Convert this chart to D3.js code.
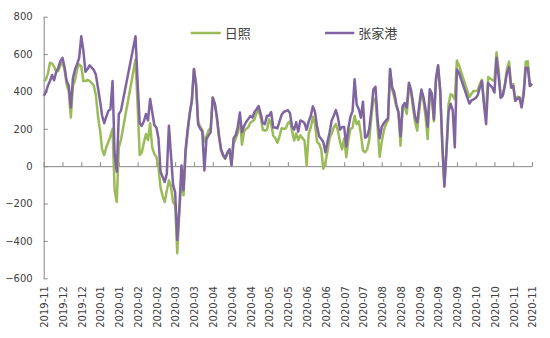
<!DOCTYPE html>
<html>
<head>
<meta charset="utf-8">
<script src="https://cdn.jsdelivr.net/npm/d3@7/dist/d3.min.js"></script>
<style>
  html, body { margin: 0; padding: 0; background: #fff; }
  svg { display: block; }
</style>
</head>
<body>
<svg id="chart" width="550" height="338"></svg>
<script>
// Tick labels along the bottom, one every `labelStep` observations
const tickLabels = [
  "2019-11","2019-12","2019-12","2020-01","2020-01","2020-02","2020-02",
  "2020-03","2020-03","2020-04","2020-04","2020-04","2020-05","2020-05",
  "2020-06","2020-06","2020-07","2020-07","2020-08","2020-08","2020-09",
  "2020-09","2020-09","2020-10","2020-10","2020-11","2020-11"
];
const labelStep = 9;

const seriesNames = ["日照", "张家港"];
const seriesColors = ["#9BBB59", "#8064A2"];

const yTicks = [-600, -400, -200, 0, 200, 400, 600, 800];

// 日照 (null = no observation; the line bridges across)
const rizhao = [
  456, 462, 495, 553, 550, 533, 505, 510, 540, 555,
  515, 438, 400, 261, 430, 460, 520, 545, 535, 456,
  456, 462, 456, 445, 430, 380, 270, 190, 90, 60,
  101, 130, 160, 200, -130, -192, 101, 140,
  null, null, null, null, null, null,
  571, 330, 60, 74, 125, 172,
  140, 230, 100, 66, 50, -5, -115, -160, -192, -130,
  -76, -110, -192, -210, -466, -250, -58, -156, 70, 180,
  280, 350, 520, 438, 240, 210, 195, 130, 160, 190,
  207, 367, 330, 255, 155, 85, 55, 40, 65, 90,
  15, 120, 145, 180, 265, 115, 185, 200, 207, 232,
  240, 250, 285, 300, 260, 195, 190, 195, 250, 228,
  163, 150, 125, 160, 203, 200, 202, 230, 240, 190,
  137, 175, 140, 165, 150, 137, 4, 175, 207, 265,
  225, 130, 119, 90, -14, 20, 80, 150, 175, 207,
  225, 190, 130, 90, 150, 48, 140, 200, 205, 270,
  225, 240, 172, 84, 74, 90, 140, 261, 360, 360,
  210, 50, 130, 190, 225, 245, 520, 410, 370, 320,
  285, 110, 310, 320, 280, 420, 400, 310, 235, 190,
  300, 400, 348, 265, 145, 394, 360, 240, 456, 530,
  400, 120, -100, 80, 330, 385, 378, 358, 565, 540,
  null, null, null, null,
  370, 388, 403, 403, 405, 440,
  462, 340, 300, 477, 468, 462, 456, 610, 520, 370,
  378, 440, 520, 560, 430, 440, 350, 372, 367, 332,
  400, 559, 562, 429, 436
];

// 张家港
const zhangjiagang = [
  376, 395, 430, 456, 488, 460, 505, 527, 562, 580,
  530, 456, 430, 314, 470, 518, 546, 580, 695, 620,
  505, 520, 540, 527, 515, 490, 420, 350, 270, 230,
  265, 296, 305, 456, 60, -30, 279, 296,
  null, null, null, null, null, null,
  695, 450, 230, 216, 240, 279,
  245, 360, 290, 220, 207, 150, -30, -58, -85, -40,
  216, 60, -100, -140, -395, -230, 4, -129, 90, 200,
  285, 350, 520, 438, 225, 200, 185, -23, 145, 165,
  181, 367, 336, 265, 165, 90, 60, 42, 74, 90,
  4, 150, 165, 210, 287, 181, 215, 236, 252, 268,
  260, 290, 305, 322, 280, 230, 225, 270, 270, 290,
  207, 207, 203, 240, 275, 290, 295, 300, 285, 215,
  195, 235, 185, 245, 240, 230, 195, 240, 270, 320,
  290, 212, 160, 145, 130, 75, 130, 180, 245, 270,
  300, 261, 195, 210, 210, 105, 205, 265, 294, 465,
  330, 305, 260, 345, 152, 160, 200, 296, 410, 425,
  250, 150, 210, 230, 245, 255, 520, 420, 395, 330,
  290, 160, 320, 338, 314, 447, 410, 340, 260, 234,
  330, 410, 370, 305, 210, 412, 390, 250, 473, 540,
  410, 120, -110, 80, 290, 334, 300, 101, 518, 500,
  null, null, null, null,
  335, 352, 358, 365, 380, 420,
  456, 330, 225, 445, 432, 420, 394, 580, 480, 365,
  378, 430, 500, 530, 420, 430, 350, 362, 367, 314,
  380, 527, 527, 429, 442
];

const series = [rizhao, zhangjiagang];
const n = rizhao.length;

const svg = d3.select("#chart");
const axisColor = "#868686";
const textColor = "#404040";
const fontLatin = "'DejaVu Sans', sans-serif";
const fontCJK = "'Noto Sans CJK SC', sans-serif";

const x = d3.scaleLinear().domain([0, n - 1]).range([43.7, 532]);
const y = d3.scaleLinear().domain([-600, 800]).range([278.3, 16.7]);

const tickIdx = tickLabels.map((_, i) => i * labelStep);

// Y axis with inward ticks
const gy = svg.append("g")
  .attr("transform", `translate(${x(0)},0)`)
  .call(d3.axisLeft(y).tickValues(yTicks).tickSize(-4).tickSizeOuter(0).tickPadding(11)
    .tickFormat(d3.format("d")));
gy.select(".domain").attr("stroke", axisColor);
gy.selectAll(".tick line").attr("stroke", axisColor);
gy.selectAll("text").attr("fill", textColor).style("font-family", fontLatin).style("font-size", "10px");

// Zero line with small upward ticks
const gx = svg.append("g")
  .attr("transform", `translate(0,${y(0)})`)
  .call(d3.axisBottom(x).tickValues(tickIdx).tickSize(-4).tickSizeOuter(0).tickFormat(""));
gx.select(".domain").attr("stroke", axisColor);
gx.selectAll(".tick line").attr("stroke", axisColor);

// Rotated date labels along the bottom
const gl = svg.append("g")
  .attr("transform", "translate(0,284)")
  .call(d3.axisBottom(x).tickValues(tickIdx).tickSize(0).tickFormat((d, i) => tickLabels[i]));
gl.select(".domain").remove();
gl.selectAll("text")
  .attr("transform", "rotate(-90)")
  .attr("x", -2)
  .attr("y", 0)
  .attr("dy", "0.38em")
  .attr("text-anchor", "end")
  .attr("fill", textColor)
  .style("font-family", fontLatin)
  .style("font-size", "10px");

// Series lines; gaps are bridged by drawing only the defined points
const line = d3.line()
  .x(d => x(d.i))
  .y(d => y(d.v));

series.forEach((vals, s) => {
  const pts = vals.map((v, i) => ({ i, v })).filter(d => d.v !== null);
  svg.append("path")
    .datum(pts)
    .attr("fill", "none")
    .attr("stroke", seriesColors[s])
    .attr("stroke-width", 2.5)
    .attr("stroke-linejoin", "round")
    .attr("d", line);
});

// Legend
const legendPos = [{ x1: 190.7, x2: 220.7 }, { x1: 325, x2: 354.3 }];
seriesNames.forEach((name, s) => {
  const lp = legendPos[s];
  svg.append("line")
    .attr("x1", lp.x1).attr("x2", lp.x2)
    .attr("y1", 33).attr("y2", 33)
    .attr("stroke", seriesColors[s])
    .attr("stroke-width", 2.5);
  svg.append("text")
    .attr("x", lp.x2 + 4)
    .attr("y", 33)
    .attr("dy", "0.36em")
    .attr("fill", textColor)
    .style("font-family", fontCJK)
    .style("font-size", "13px")
    .text(name);
});
</script>
</body>
</html>
